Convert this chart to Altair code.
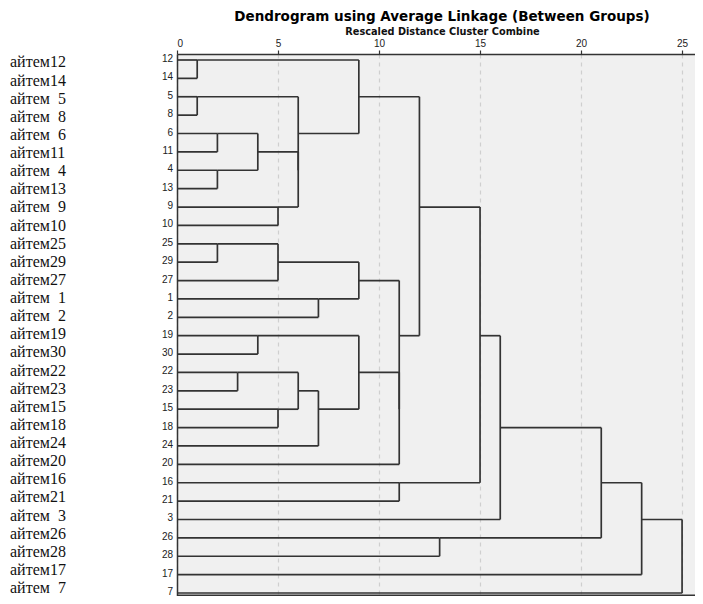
import altair as alt
import pandas as pd

# Leaf order top to bottom (item numbers)
leaf_order = [12, 14, 5, 8, 6, 11, 4, 13, 9, 10, 25, 29, 27, 1, 2,
              19, 30, 22, 23, 15, 18, 24, 20, 16, 21, 3, 26, 28, 17, 7]

# Agglomeration steps: merge i creates cluster "c{i}"
merge_left = ["12", "5", "6", "4", "25", "22", "c3", "19", "9", "c5",
              "15", "c7", "c2", "c6", "1", "c14", "c1", "c10", "c8", "c19",
              "c18", "16", "c17", "26", "c23", "c25", "c26", "c27", "c28"]
merge_right = ["14", "8", "11", "13", "29", "23", "c4", "30", "10", "27",
               "18", "c9", "c12", "c11", "2", "24", "c13", "c15", "c16", "20",
               "c20", "21", "c21", "28", "c22", "3", "c24", "17", "7"]
merge_dist = [1, 1, 2, 2, 2, 3, 4, 4, 5, 5,
              5, 6, 6, 6, 7, 7, 9, 9, 9, 11,
              11, 11, 12, 13, 15, 16, 21, 23, 25]

tick_values = [0, 5, 10, 15, 20, 25]

# ---- build tree geometry from the merge table ----
node = {str(n): (i, 0.0) for i, n in enumerate(leaf_order)}
segs = []
for k, (a, b, d) in enumerate(zip(merge_left, merge_right, merge_dist), start=1):
    ra, xa = node[a]
    rb, xb = node[b]
    segs.append({"x": xa, "x2": d, "y": ra, "y2": ra})
    segs.append({"x": xb, "x2": d, "y": rb, "y2": rb})
    segs.append({"x": d, "x2": d, "y": min(ra, rb), "y2": max(ra, rb)})
    node[f"c{k}"] = ((ra + rb) // 2, d)
seg_df = pd.DataFrame(segs)

leaf_df = pd.DataFrame({
    "row": list(range(len(leaf_order))),
    "num": [str(n) for n in leaf_order],
    "item": ["айтем" + (str(n) if n >= 10 else "\u00a0\u00a0" + str(n)) for n in leaf_order],
})

W, H = 518, 542
xs = alt.Scale(domain=[0, 25.64], nice=False, zero=False)
ys = alt.Scale(domain=[-0.326, 29.163], nice=False, zero=False, reverse=True)
ys_items = alt.Scale(domain=[-0.469, 29.441], nice=False, zero=False, reverse=True)

lines = alt.Chart(seg_df).mark_rule(color="#333333", strokeWidth=1.7).encode(
    x=alt.X("x:Q", scale=xs, axis=alt.Axis(
        orient="top", values=tick_values, title="Rescaled Distance Cluster Combine",
        titleFont="DejaVu Sans", titleFontSize=9.75, titleFontWeight="bold",
        titleColor="#111", titlePadding=2, titleX=W / 2 + 6, titleAlign="center",
        labelFont="Liberation Sans", labelFontSize=10, labelColor="#222",
        labelPadding=2, tickSize=4, tickColor="#333", tickWidth=1.2,
        domainColor="#333", domainWidth=1.5,
        grid=True, gridColor="#cfcfcf", gridDash=[4, 4], gridWidth=1.2)),
    x2="x2:Q",
    y=alt.Y("y:Q", scale=ys, axis=alt.Axis(
        labels=False, ticks=False, grid=False, title=None,
        domainColor="#333", domainWidth=1.5)),
    y2="y2:Q",
)

nums = alt.Chart(leaf_df).mark_text(
    align="right", baseline="middle", font="Liberation Sans", fontSize=10,
    color="#222", dy=-1
).encode(x=alt.value(-4), y=alt.Y("row:Q", scale=ys, axis=None), text="num:N")

items = alt.Chart(leaf_df).mark_text(
    align="left", baseline="middle", font="Liberation Serif", fontSize=16,
    color="#111"
).encode(x=alt.value(-167), y=alt.Y("row:Q", scale=ys_items, axis=None), text="item:N")

bottom = alt.Chart(leaf_df.head(1)).mark_rule(color="#333", strokeWidth=1.5).encode(
    x=alt.value(0), x2=alt.value(W), y=alt.value(H - 0.75))

chart = alt.layer(lines, nums, items, bottom).resolve_scale(
    y="independent"
).properties(
    width=W, height=H,
    title=alt.TitleParams(
        "Dendrogram using Average Linkage (Between Groups)",
        font="DejaVu Sans", fontSize=13.5, fontWeight="bold", color="#000",
        anchor="middle", frame="group", offset=3, dx=6),
    autosize=alt.AutoSizeParams(type="none"),
    padding={"left": 169, "top": 46, "right": 0, "bottom": 0},
).configure_view(fill="#f0f0f0", stroke=None)

chart.save("out.html", embed_options={"renderer": "svg", "actions": False})
